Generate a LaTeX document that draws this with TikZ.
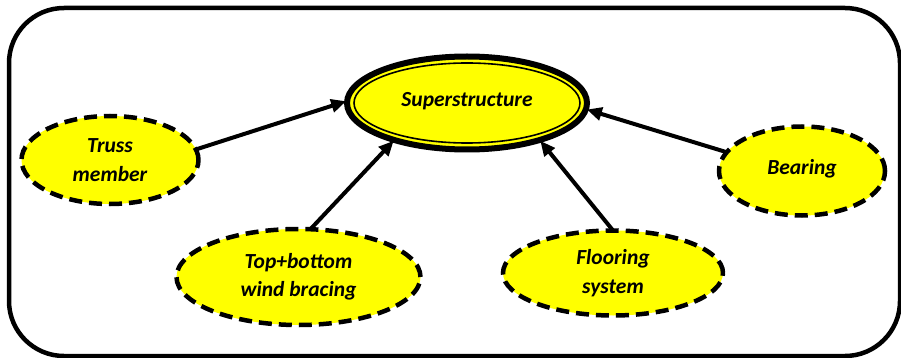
\documentclass[tikz,border=0pt]{standalone}
\usepackage{fontspec}
\setmainfont{Carlito}
\usetikzlibrary{shapes.geometric,arrows.meta}
\definecolor{bubble}{HTML}{FFFF00}
\tikzset{
  every node/.style={font=\bfseries\itshape\fontsize{21.5}{28.5}\selectfont, align=center},
  part/.style={ellipse, fill=bubble, draw=black, line width=4.5pt,
    dash pattern=on 13pt off 7pt, inner sep=0pt, outer sep=0pt},
  hub/.style={ellipse, fill=bubble, draw=black, line width=6pt,
    inner sep=0pt, outer sep=0pt},
  link/.style={line width=4pt, -{Triangle[length=15pt,width=13pt]}, shorten >=1pt},
  frame/.style={draw=black, line width=4.5pt, rounded corners=55pt}
}
\begin{document}
\begin{tikzpicture}[x=1pt, y=-1pt]
  \useasboundingbox (0,0) rectangle (901,358);
  % outer frame
  \draw[frame] (9,8) rectangle (900,356);

  % central concept with thick-thin border
  \node[hub, minimum width=240pt, minimum height=93pt] (super) at (467,103)
    {\raisebox{7pt}{Superstructure}};
  \draw[line width=1.6pt] (super.center) ellipse [x radius=113pt, y radius=40pt];

  % parts
  \node[part, minimum width=177pt, minimum height=88pt] (truss) at (110,160) {Truss\\member};
  \node[part, minimum width=244pt, minimum height=96pt] (bracing) at (298.5,277) {Top+bottom\\wind bracing};
  \node[part, minimum width=220pt, minimum height=85pt] (floor) at (613,273) {\raisebox{-2pt}{Flooring}\\\raisebox{-2pt}{system}};
  \node[part, minimum width=166pt, minimum height=89pt] (bearing) at (802,171) {\raisebox{8pt}{Bearing}};

  % connectors
  \draw[link] (truss.7) -- (super.179);
  \draw[link] (bracing.76) -- (super.207);
  \draw[link] (floor.90) -- (super.333);
  \draw[link] (bearing.166) -- (super.357);
\end{tikzpicture}
\end{document}
